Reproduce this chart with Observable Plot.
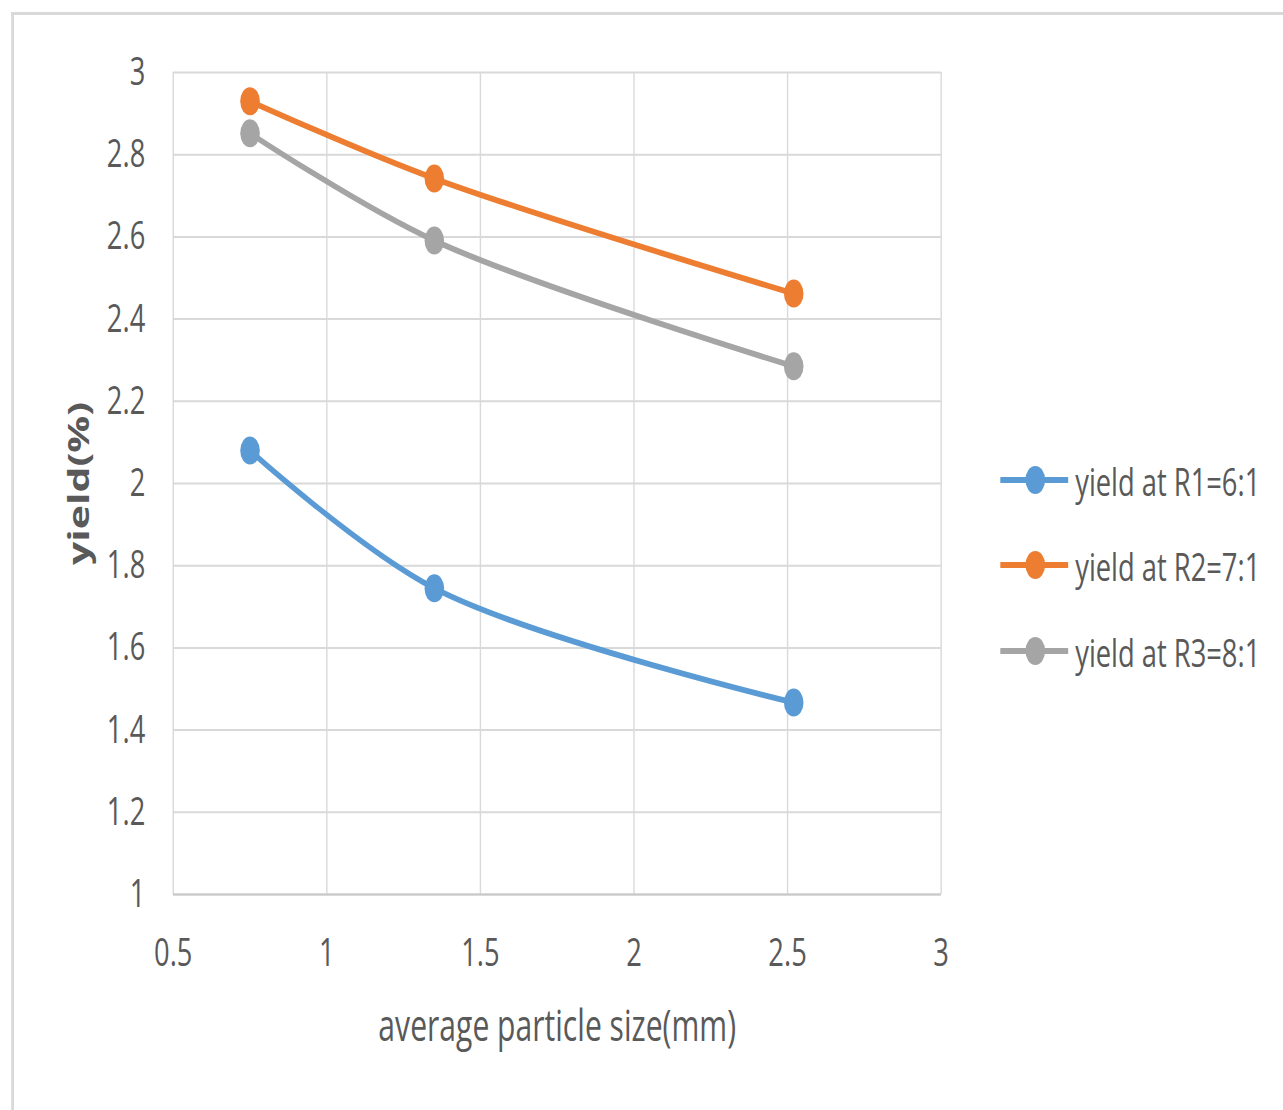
<!DOCTYPE html>
<html>
<head>
<meta charset="utf-8">
<script src="https://cdn.jsdelivr.net/npm/d3@7"></script>
<script src="https://cdn.jsdelivr.net/npm/@observablehq/plot@0.6"></script>
<style>
  html, body { margin: 0; padding: 0; background: #fff; overflow: hidden; width: 1283px; height: 1110px; }
  #wrap { position: absolute; left: 0; top: 0; width: 1833px; height: 1110px; transform: scaleX(0.7); transform-origin: 0 0; font-family: "Open Sans", sans-serif; color: #595959; }
  #frame { position: absolute; left: 16px; top: 12px; right: -20px; bottom: -20px; border-top: 3px solid #d9d9d9; border-left: 4px solid #d9d9d9; }
  #chart { position: absolute; left: 0; top: 0; }
  #legend { position: absolute; left: 1429px; top: 0; }
  .row { position: absolute; left: 0; display: flex; align-items: center; white-space: nowrap; font-size: 39px; }
  .row svg { display: block; margin-right: 10px; }
</style>
</head>
<body>
<div id="wrap">
  <div id="frame"></div>
  <div id="chart"></div>
  <div id="legend"></div>
</div>
<script>
// ---- data ----
const particleSizes = [0.75, 1.35, 2.52];
const seriesNames = ["yield at R1=6:1", "yield at R2=7:1", "yield at R3=8:1"];
const yieldR1 = [2.08, 1.745, 1.467];
const yieldR2 = [2.93, 2.742, 2.462];
const yieldR3 = [2.852, 2.591, 2.285];
const seriesColors = ["#5B9BD5", "#ED7D31", "#A5A5A5"];
const xTicks = [0.5, 1, 1.5, 2, 2.5, 3];
const yTicks = [1, 1.2, 1.4, 1.6, 1.8, 2, 2.2, 2.4, 2.6, 2.8, 3];
const xLabel = "average particle size(mm)";
const yLabel = "yield(%)";

const seriesValues = [yieldR1, yieldR2, yieldR3];
const rows = [];
seriesNames.forEach((name, i) => {
  particleSizes.forEach((x, j) => rows.push({series: name, x, y: seriesValues[i][j]}));
});

const W = 1833, H = 1110;
const plotLeft = 247, plotRight = 1344, plotTop = 72, plotBottom = 894;

const chart = Plot.plot({
  width: W,
  height: H,
  marginLeft: plotLeft,
  marginRight: W - plotRight,
  marginTop: plotTop,
  marginBottom: H - plotBottom,
  style: {fontFamily: "Open Sans", color: "#595959", background: "transparent", overflow: "visible"},
  x: {domain: [0.5, 3]},
  y: {domain: [1, 3]},
  color: {domain: seriesNames, range: seriesColors},
  marks: [
    Plot.gridY(yTicks, {stroke: "#d9d9d9", strokeOpacity: 1, strokeWidth: 2}),
    Plot.gridX(xTicks, {stroke: "#d9d9d9", strokeOpacity: 1, strokeWidth: 2}),
    Plot.ruleY([1], {stroke: "#c8c8c8", strokeWidth: 2}),
    Plot.axisY(yTicks, {tickSize: 0, tickPadding: 40, fontSize: 39, label: null, tickFormat: d => String(d), fill: "#595959"}),
    Plot.axisX(xTicks, {tickSize: 0, tickPadding: 44, fontSize: 39, label: null, tickFormat: d => String(d), fill: "#595959"}),
    Plot.line(rows, {x: "x", y: "y", z: "series", stroke: "series", curve: "catmull-rom", strokeWidth: 6}),
    Plot.dot(rows, {x: "x", y: "y", fill: "series", r: 14}),
    Plot.text([xLabel], {text: d => d, frameAnchor: "bottom", dy: 133, fontSize: 43, fill: "#595959", lineAnchor: "middle", textAnchor: "middle"}),
    Plot.text([yLabel], {text: d => d, frameAnchor: "left", dx: -134, rotate: -90, fontSize: 41, fontWeight: "bold", fill: "#595959", lineAnchor: "middle", textAnchor: "middle"})
  ]
});
document.getElementById("chart").appendChild(chart);

// legend
const legend = d3.select("#legend");
const legendY = [480, 565, 651];
seriesNames.forEach((name, i) => {
  const row = legend.append("div").attr("class", "row").style("top", (legendY[i] - 28) + "px").style("height", "56px");
  const svg = row.append("svg").attr("width", 97).attr("height", 30);
  svg.append("line").attr("x1", 1).attr("x2", 96).attr("y1", 15).attr("y2", 15)
    .attr("stroke", seriesColors[i]).attr("stroke-width", 6).attr("stroke-linecap", "round");
  svg.append("circle").attr("cx", 50).attr("cy", 15).attr("r", 14).attr("fill", seriesColors[i]);
  row.append("span").text(name);
});
</script>
</body>
</html>
